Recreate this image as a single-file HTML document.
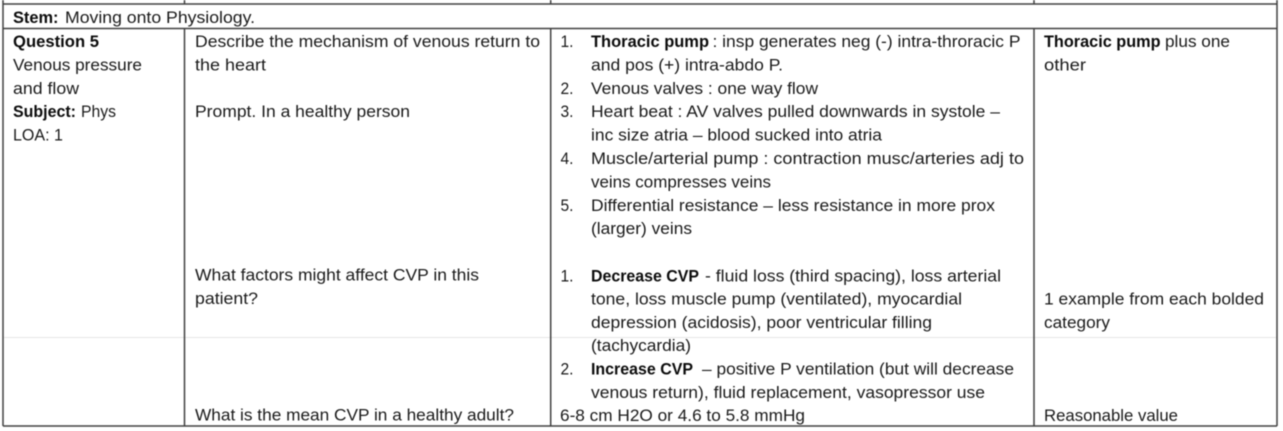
<!DOCTYPE html>
<html lang="en">
<head>
<meta charset="utf-8">
<title>Venous pressure and flow question table</title>
<style>
html,body{margin:0;padding:0;background:#fff;width:1283px;height:431px;overflow:hidden}
svg{display:block;filter:blur(0.4px)}
text{font-family:"Liberation Sans",sans-serif;font-size:16.5px;fill:#1a1a1a}
.b{font-weight:bold;fill:#0c0c0c}
line{stroke:#404040;stroke-width:1.5}
</style>
</head>
<body>
<svg width="1283" height="431" viewBox="0 0 1283 431">
<g>
<line x1="4" y1="337.5" x2="1276" y2="337.5" style="stroke:#e6e6e6;stroke-width:1"/>
<line x1="3" y1="4" x2="1277" y2="4"/>
<line x1="3" y1="28.5" x2="1277" y2="28.5"/>
<line x1="3" y1="426" x2="1277" y2="426"/>
<line x1="3" y1="0" x2="3" y2="426"/>
<line x1="184.5" y1="28.5" x2="184.5" y2="426"/>
<line x1="550.7" y1="28.5" x2="550.7" y2="426"/>
<line x1="1034" y1="28.5" x2="1034" y2="426"/>
<line x1="1277" y1="0" x2="1277" y2="426"/>
<line x1="184.5" y1="0" x2="184.5" y2="4"/>
<line x1="550.7" y1="0" x2="550.7" y2="4"/>
<line x1="1034" y1="0" x2="1034" y2="4"/>
</g>
<g>
<text class="b" x="13" y="23" textLength="45.5" lengthAdjust="spacingAndGlyphs">Stem:</text>
<text x="65" y="23" textLength="190" lengthAdjust="spacingAndGlyphs">Moving onto Physiology.</text>
</g>
<g>
<text class="b" x="13" y="47" textLength="86" lengthAdjust="spacingAndGlyphs">Question 5</text>
<text x="13" y="70.5" textLength="129" lengthAdjust="spacingAndGlyphs">Venous pressure</text>
<text x="13" y="94" textLength="66" lengthAdjust="spacingAndGlyphs">and flow</text>
<text class="b" x="13" y="117" textLength="63" lengthAdjust="spacingAndGlyphs">Subject:</text>
<text x="81" y="117" textLength="35" lengthAdjust="spacingAndGlyphs">Phys</text>
<text x="13" y="140.5" textLength="50" lengthAdjust="spacingAndGlyphs">LOA: 1</text>
</g>
<g>
<text x="195" y="47" textLength="345" lengthAdjust="spacingAndGlyphs">Describe the mechanism of venous return to</text>
<text x="195" y="70.5" textLength="71" lengthAdjust="spacingAndGlyphs">the heart</text>
<text x="195" y="117" textLength="215" lengthAdjust="spacingAndGlyphs">Prompt. In a healthy person</text>
<text x="195" y="280.5" textLength="284" lengthAdjust="spacingAndGlyphs">What factors might affect CVP in this</text>
<text x="195" y="304" textLength="63" lengthAdjust="spacingAndGlyphs">patient?</text>
<text x="195" y="420.5" textLength="319" lengthAdjust="spacingAndGlyphs">What is the mean CVP in a healthy adult?</text>
</g>
<g>
<text x="560.5" y="47" textLength="13" lengthAdjust="spacingAndGlyphs">1.</text>
<text class="b" x="591" y="47" textLength="118" lengthAdjust="spacingAndGlyphs">Thoracic pump</text>
<text x="712.5" y="47" textLength="308" lengthAdjust="spacingAndGlyphs">: insp generates neg (-) intra-throracic P</text>
<text x="591" y="70.5" textLength="192" lengthAdjust="spacingAndGlyphs">and pos (+) intra-abdo P.</text>
<text x="560.5" y="94" textLength="13" lengthAdjust="spacingAndGlyphs">2.</text>
<text x="591" y="94" textLength="227" lengthAdjust="spacingAndGlyphs">Venous valves : one way flow</text>
<text x="560.5" y="117" textLength="13" lengthAdjust="spacingAndGlyphs">3.</text>
<text x="591" y="117" textLength="409" lengthAdjust="spacingAndGlyphs">Heart beat : AV valves pulled downwards in systole –</text>
<text x="591" y="140.5" textLength="291" lengthAdjust="spacingAndGlyphs">inc size atria – blood sucked into atria</text>
<text x="560.5" y="164" textLength="13" lengthAdjust="spacingAndGlyphs">4.</text>
<text x="591" y="164" textLength="433" lengthAdjust="spacingAndGlyphs">Muscle/arterial pump : contraction musc/arteries adj to</text>
<text x="591" y="187.5" textLength="180" lengthAdjust="spacingAndGlyphs">veins compresses veins</text>
<text x="560.5" y="211" textLength="13" lengthAdjust="spacingAndGlyphs">5.</text>
<text x="591" y="211" textLength="404" lengthAdjust="spacingAndGlyphs">Differential resistance – less resistance in more prox</text>
<text x="591" y="234" textLength="101" lengthAdjust="spacingAndGlyphs">(larger) veins</text>
<text x="560.5" y="281.5" textLength="13" lengthAdjust="spacingAndGlyphs">1.</text>
<text class="b" x="591" y="281.5" textLength="108" lengthAdjust="spacingAndGlyphs">Decrease CVP</text>
<text x="705" y="281.5" textLength="296" lengthAdjust="spacingAndGlyphs">- fluid loss (third spacing), loss arterial</text>
<text x="591" y="304.5" textLength="371" lengthAdjust="spacingAndGlyphs">tone, loss muscle pump (ventilated), myocardial</text>
<text x="591" y="328" textLength="341" lengthAdjust="spacingAndGlyphs">depression (acidosis), poor ventricular filling</text>
<text x="591" y="351" textLength="100" lengthAdjust="spacingAndGlyphs">(tachycardia)</text>
<text x="560.5" y="374.5" textLength="13" lengthAdjust="spacingAndGlyphs">2.</text>
<text class="b" x="591" y="374.5" textLength="102" lengthAdjust="spacingAndGlyphs">Increase CVP</text>
<text x="702" y="374.5" textLength="312" lengthAdjust="spacingAndGlyphs">– positive P ventilation (but will decrease</text>
<text x="591" y="398" textLength="394" lengthAdjust="spacingAndGlyphs">venous return), fluid replacement, vasopressor use</text>
<text x="560" y="421" textLength="245" lengthAdjust="spacingAndGlyphs">6-8 cm H2O or 4.6 to 5.8 mmHg</text>
</g>
<g>
<text class="b" x="1044" y="47" textLength="116.5" lengthAdjust="spacingAndGlyphs">Thoracic pump</text>
<text x="1165" y="47" textLength="65" lengthAdjust="spacingAndGlyphs">plus one</text>
<text x="1044" y="70.5" textLength="42" lengthAdjust="spacingAndGlyphs">other</text>
<text x="1044" y="304.5" textLength="220" lengthAdjust="spacingAndGlyphs">1 example from each bolded</text>
<text x="1044" y="328" textLength="66" lengthAdjust="spacingAndGlyphs">category</text>
<text x="1044" y="421" textLength="134" lengthAdjust="spacingAndGlyphs">Reasonable value</text>
</g>
</svg>
</body>
</html>
